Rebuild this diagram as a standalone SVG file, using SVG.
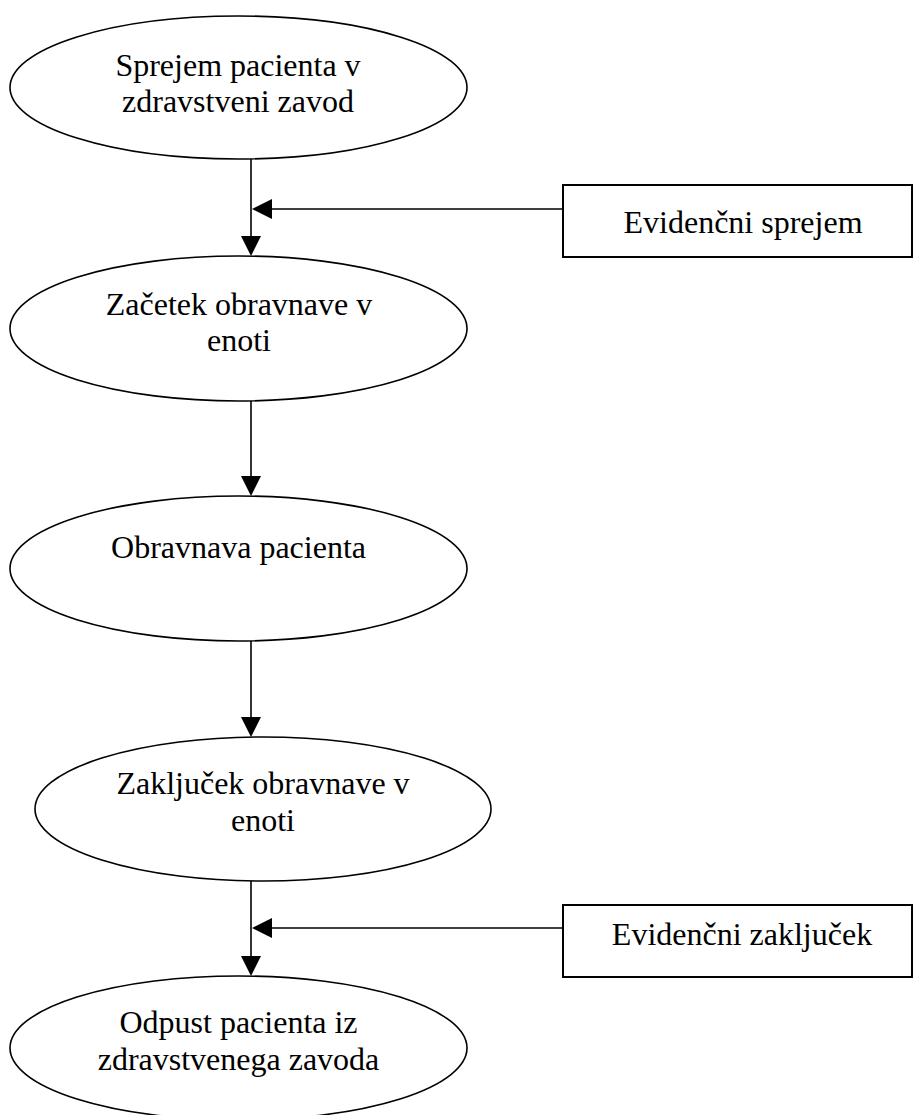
<svg xmlns="http://www.w3.org/2000/svg" width="914" height="1115" viewBox="0 0 914 1115">
  <style>
    .shape { fill: #ffffff; stroke: #000000; stroke-width: 1.6; }
    .box { fill: #ffffff; stroke: #000000; stroke-width: 2; }
    .label { font-family: "Liberation Serif", "Times New Roman", serif; font-size: 32px; fill: #000000; text-anchor: middle; }
    .link { fill: none; stroke: #000000; stroke-width: 1.6; }
    .head { fill: #000000; stroke: none; }
  </style>

  <rect width="914" height="1115" fill="#ffffff"/>

  <!-- connectors -->
  <g id="connectors">
    <!-- admission -> start of treatment -->
    <line class="link" x1="251" y1="159" x2="251" y2="238"/>
    <polygon class="head" points="241,236 261,236 251,256"/>
    <!-- admission record -> flow -->
    <line class="link" x1="563" y1="209" x2="270" y2="209"/>
    <polygon class="head" points="272,199 272,219 252,209"/>
    <!-- start of treatment -> treatment -->
    <line class="link" x1="251" y1="401" x2="251" y2="478"/>
    <polygon class="head" points="241,476 261,476 251,496"/>
    <!-- treatment -> end of treatment -->
    <line class="link" x1="251" y1="641" x2="251" y2="719"/>
    <polygon class="head" points="241,717 261,717 251,737"/>
    <!-- end of treatment -> discharge -->
    <line class="link" x1="251" y1="881" x2="251" y2="958"/>
    <polygon class="head" points="241,956 261,956 251,976"/>
    <!-- closing record -> flow -->
    <line class="link" x1="563" y1="928" x2="270" y2="928"/>
    <polygon class="head" points="272,918 272,938 252,928"/>
  </g>

  <g id="sprejem">
    <ellipse class="shape" cx="238.5" cy="87.5" rx="228.5" ry="71.5"/>
    <text class="label" x="238" y="76">Sprejem pacienta v</text>
    <text class="label" x="238" y="112">zdravstveni zavod</text>
  </g>

  <g id="evidencni-sprejem">
    <rect class="box" x="563" y="185" width="349" height="72"/>
    <text class="label" x="743" y="233">Evidenčni sprejem</text>
  </g>

  <g id="zacetek">
    <ellipse class="shape" cx="238.5" cy="328.5" rx="228.5" ry="72.5"/>
    <text class="label" x="239" y="315">Začetek obravnave v</text>
    <text class="label" x="239" y="351">enoti</text>
  </g>

  <g id="obravnava">
    <ellipse class="shape" cx="238.5" cy="568.5" rx="228.5" ry="72.5"/>
    <text class="label" x="238.5" y="558">Obravnava pacienta</text>
  </g>

  <g id="zakljucek">
    <ellipse class="shape" cx="263" cy="809" rx="228" ry="72"/>
    <text class="label" x="263" y="794">Zaključek obravnave v</text>
    <text class="label" x="263" y="831">enoti</text>
  </g>

  <g id="evidencni-zakljucek">
    <rect class="box" x="563" y="905" width="349" height="72"/>
    <text class="label" x="742" y="945">Evidenčni zaključek</text>
  </g>

  <g id="odpust">
    <ellipse class="shape" cx="238.5" cy="1048" rx="228.5" ry="72"/>
    <text class="label" x="238.5" y="1033">Odpust pacienta iz</text>
    <text class="label" x="238.5" y="1070">zdravstvenega zavoda</text>
  </g>
</svg>
